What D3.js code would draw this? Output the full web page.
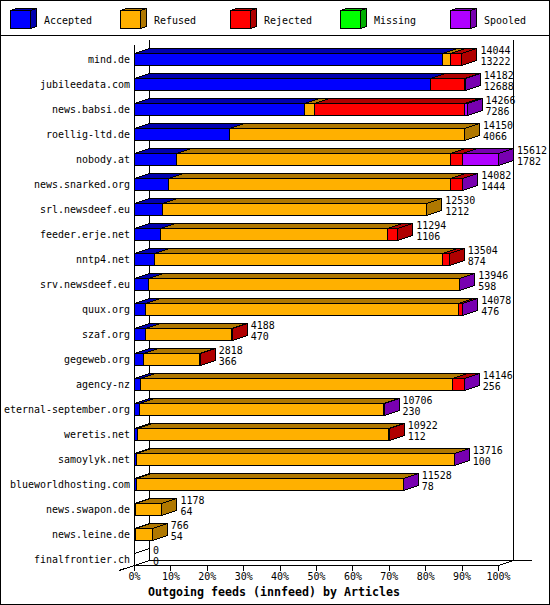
<!DOCTYPE html>
<html><head><meta charset="utf-8">
<script src="https://cdn.jsdelivr.net/npm/d3@7"></script>
<style>
html,body{margin:0;padding:0;background:#fff}
svg{display:block}
text{font-family:"DejaVu Sans Mono",monospace;font-size:11px;fill:#000}
</style></head><body>
<script>
const hosts = ["mind.de","jubileedata.com","news.babsi.de","roellig-ltd.de","nobody.at","news.snarked.org","srl.newsdeef.eu","feeder.erje.net","nntp4.net","srv.newsdeef.eu","quux.org","szaf.org","gegeweb.org","agency-nz","eternal-september.org","weretis.net","samoylyk.net","blueworldhosting.com","news.swapon.de","news.leine.de","finalfrontier.ch"];
const accepted = [13222,12688,7286,4066,1782,1444,1212,1106,874,598,476,470,366,256,230,112,100,78,64,54,0];
const refused  = [341,0,436,10084,11781,12119,11318,9752,12347,13338,13432,3690,2434,13393,10466,10761,13606,11440,1114,712,0];
const rejected = [481,1480,6418,0,515,515,0,436,283,0,160,28,18,489,0,49,0,0,0,0,0];
const missing  = [0,0,0,0,0,0,0,0,0,0,0,0,0,0,0,0,0,0,0,0,0];
const spooled  = [0,14,126,0,1534,4,0,0,0,10,10,0,0,8,10,0,10,10,0,0,0];
const seriesNames = ["Accepted","Refused","Rejected","Missing","Spooled"];
const seriesValues = [accepted,refused,rejected,missing,spooled];
const frontColors = ["#0000ff","#ffb000","#ff0000","#00ff00","#b000ff"];
const sideColors  = ["#0000b0","#b07800","#b00000","#00b000","#7800b0"];
const percentTicks = [0,10,20,30,40,50,60,70,80,90,100];
const chartTitle = "Outgoing feeds (innfeed) by Articles";

const W=550,H=605, DX=15, DY=5;
const totals = hosts.map((h,i)=>d3.sum(seriesValues,s=>s[i]));
const maxTotal = d3.max(totals);
const x = d3.scaleLinear().domain([0,maxTotal]).range([134,498]);
const pct = d3.scaleLinear().domain([0,100]).range([134,498]);
const y = d3.scaleBand().domain(hosts).range([40,565]);
const px = v=>Math.round(v)+0.5;

const svg = d3.select("body").append("svg").attr("width",W).attr("height",H)
  .attr("shape-rendering","crispEdges");
const fit = (sel,per=6)=>sel.attr("textLength",function(){return this.textContent.length*per;})
  .attr("lengthAdjust","spacingAndGlyphs");

svg.append("rect").attr("x",0.5).attr("y",0.5).attr("width",W-1).attr("height",H-1)
  .attr("fill","#fff").attr("stroke","#000");
const line=(g,a,b,c,d)=>g.append("line").attr("x1",a).attr("y1",b).attr("x2",c).attr("y2",d).attr("stroke","#000");
line(svg,0,35.5,W,35.5);

// legend
const legend = svg.append("g").selectAll("g").data(seriesNames).join("g")
  .attr("transform",(d,i)=>`translate(${10+110*i},0)`);
legend.append("polygon").attr("points","20.5,10.5 26.5,8.5 26.5,26.5 20.5,28.5")
  .attr("fill",(d,i)=>sideColors[i]).attr("stroke","#000");
legend.append("polygon").attr("points","0.5,10.5 6.5,8.5 26.5,8.5 20.5,10.5")
  .attr("fill",(d,i)=>sideColors[i]).attr("stroke","#000");
legend.append("rect").attr("x",0.5).attr("y",10.5).attr("width",20).attr("height",18)
  .attr("fill",(d,i)=>frontColors[i]).attr("stroke","#000");
fit(legend.append("text").attr("x",34).attr("y",24).text(d=>d));

// walls and floor
const wall = svg.append("g");
line(wall,px(x(0)+DX),40,px(x(0)+DX),560.5);
line(wall,px(x.range()[1]+DX),40,px(x.range()[1]+DX),560.5);
line(wall,px(x(0)),45,px(x(0)),565.5);
line(wall,px(x(0)+DX),560.5,532,560.5);
line(wall,px(x(0)),565.5,px(x.range()[1]),565.5);
line(wall,119,570.5,149.5,560.5);
line(wall,498.5,565.5,513.5,560.5);

// bars
const rows = svg.append("g").selectAll("g").data(hosts).join("g");
rows.each(function(host,i){
  const g = d3.select(this), t = y(host)+13.5, b = y(host)+25.5;
  let cum = 0, last = -1;
  seriesValues.forEach((s,k)=>{
    const v = s[i]; if(!v) return;
    const x0=px(x(cum)), x1=px(x(cum+v));
    g.append("polygon").attr("points",`${x0},${t} ${x0+DX},${t-DY} ${x1+DX},${t-DY} ${x1},${t}`)
      .attr("fill",sideColors[k]).attr("stroke","#000");
    g.append("rect").attr("x",x0).attr("y",t).attr("width",x1-x0).attr("height",b-t)
      .attr("fill",frontColors[k]).attr("stroke","#000");
    cum+=v; last=k;
  });
  const xe=px(x(cum));
  g.append("polygon").attr("points",`${xe},${t} ${xe+DX},${t-DY} ${xe+DX},${b-DY} ${xe},${b}`)
    .attr("fill",last>=0?sideColors[last]:"none").attr("stroke","#000");
  fit(g.append("text").attr("x",x(cum)+DX+4).attr("y",y(host)+14).text(cum));
  fit(g.append("text").attr("x",x(cum)+DX+4).attr("y",y(host)+25).text(accepted[i]));
  fit(g.append("text").attr("x",130).attr("y",y(host)+23).attr("text-anchor","end").text(host));
});

// axis
const axis = svg.append("g").attr("transform","translate(0,565.5)")
  .call(d3.axisBottom(pct).tickValues(percentTicks).tickFormat(d=>d+"%").tickSize(5).tickPadding(2));
axis.select(".domain").remove();
axis.selectAll("line").attr("stroke","#000");
fit(axis.selectAll("text").attr("fill","#000")
  .style("font-family",'"DejaVu Sans Mono",monospace').style("font-size","11px"));

fit(svg.append("text").attr("x",274).attr("y",596).attr("text-anchor","middle")
  .style("font-weight","bold").style("font-size","12px").text(chartTitle),7);
</script>
</body></html>
